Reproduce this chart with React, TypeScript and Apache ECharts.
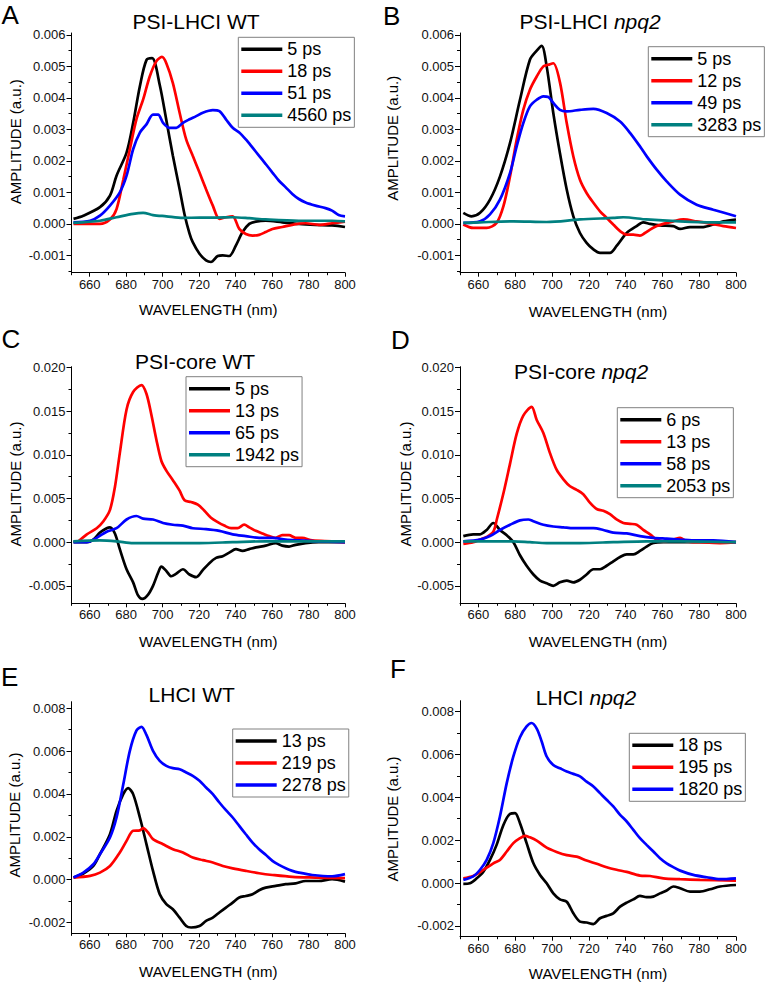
import React, { useEffect, useRef } from "react";
import * as echarts from "echarts";

// ---------- axis ticks ----------
const WL_TICKS = [660, 680, 700, 720, 740, 760, 780, 800];
const WL_MINOR = [650, 670, 690, 710, 730, 750, 770, 790];
const LHCI_TICKS = [-0.001, 0, 0.001, 0.002, 0.003, 0.004, 0.005, 0.006];
const LHCI_MINOR = [-0.0015, -0.0005, 0.0005, 0.0015, 0.0025, 0.0035, 0.0045, 0.0055];
const CORE_TICKS = [-0.005, 0, 0.005, 0.01, 0.015, 0.02];
const CORE_MINOR = [-0.0025, 0.0025, 0.0075, 0.0125, 0.0175];
const LH_TICKS = [-0.002, 0, 0.002, 0.004, 0.006, 0.008];
const LH_MINOR = [-0.001, 0.001, 0.003, 0.005, 0.007];

// ---------- A: PSI-LHCI WT ----------
const A_5ps = [[651.1,0.00016],[656.5,0.00026],[665.6,0.00053],[671.1,0.0009],[674.7,0.00153],[680.2,0.00226],[683.8,0.0032],[687.5,0.00437],[691.1,0.0052],[694.2,0.00526],[698.4,0.00441],[702,0.0033],[705.6,0.00216],[709.3,0.0011],[712,0.0003],[714.7,-0.0003],[716.5,-0.00058],[720.2,-0.00095],[723.8,-0.00116],[726.5,-0.00121],[730.2,-0.00102],[732.9,-0.001],[736.5,-0.00102],[740.2,-0.00068],[743.8,-0.00026],[747.5,0],[751.1,0.00007],[756.5,0.0001],[765.6,0.00005],[774.7,0],[783.8,-0.00003],[792.9,-0.00005],[800,-0.0001]];
const A_18ps = [[651.1,0],[665.6,0],[671.1,0.00014],[674.7,0.00047],[678.4,0.0014],[682,0.00237],[685.6,0.00332],[689.3,0.00395],[692.9,0.00468],[696.5,0.00516],[699.6,0.0053],[702,0.0051],[705.6,0.00447],[709.3,0.00353],[712.9,0.00268],[716.5,0.00216],[720.2,0.00163],[723.8,0.0011],[727.5,0.00058],[731.1,0.00016],[734.7,0.00021],[738.4,0.00024],[742,-0.00016],[745.6,-0.00032],[749.3,-0.00037],[752.9,-0.00035],[756.5,-0.00026],[760.2,-0.00016],[765.6,-0.0001],[771.1,-0.00003],[778.4,0.00002],[785.6,-0.00003],[792.9,0.00002],[800,0.00007]];
const A_51ps = [[651.1,0.00005],[660.2,0.0001],[665.6,0.00026],[671.1,0.00058],[676.5,0.001],[680.2,0.00153],[683.8,0.00237],[687.5,0.0029],[691.1,0.00316],[694.7,0.00347],[697.5,0.00347],[700.2,0.00321],[703.8,0.00305],[707.5,0.00305],[711.1,0.00321],[714.7,0.00332],[718.4,0.00342],[722,0.00353],[727.5,0.00361],[731.1,0.00358],[734.7,0.00332],[738.4,0.00305],[742,0.0029],[745.6,0.00268],[749.3,0.00242],[752.9,0.00216],[756.5,0.0019],[760.2,0.00163],[763.8,0.00137],[767.5,0.00116],[771.1,0.00095],[774.7,0.00079],[778.4,0.00068],[783.8,0.00058],[789.3,0.0005],[792.9,0.00042],[796.5,0.00028],[800,0.00024]];
const A_4560ps = [[651,0.00003],[665.6,0.0001],[674.7,0.00021],[683.8,0.00032],[689.3,0.00035],[694.7,0.00028],[702,0.00024],[711.1,0.00019],[720.2,0.0002],[729.3,0.0002],[738.4,0.00021],[747.5,0.00018],[756.5,0.00014],[774.7,0.0001],[792.9,0.0001],[800,0.00008]];

// ---------- B: PSI-LHCI npq2 ----------
const B_5ps = [[651.8,0.00035],[656.3,0.00024],[660.9,0.00035],[666.3,0.00077],[671.7,0.0015],[677.2,0.00257],[682.6,0.00394],[688,0.00521],[691.7,0.0055],[694.4,0.00565],[697.1,0.005],[700.7,0.00352],[704.3,0.00225],[708,0.00109],[711.6,0.00024],[715.2,-0.00029],[718.8,-0.0006],[722.5,-0.00081],[726.1,-0.00092],[731.5,-0.00092],[735.1,-0.0007],[740.6,-0.00029],[746,-0.00007],[749.6,0.00005],[753.3,0],[758.7,-0.00005],[765.9,-0.00007],[769.6,-0.00016],[775,-0.0001],[782.2,-0.0001],[787.7,-0.00002],[793.1,0.00008],[800,0.00014]];
const B_12ps = [[651.8,-0.00002],[657.2,-0.00013],[664.5,-0.00013],[669.9,0.00003],[673.6,0.00056],[677.2,0.00151],[680.8,0.00267],[684.4,0.00362],[688,0.00426],[691.7,0.00468],[695.3,0.005],[698,0.00505],[700.7,0.0051],[704.3,0.0045],[708,0.0032],[711.6,0.00214],[715.2,0.0014],[718.8,0.00098],[722.5,0.00067],[726.1,0.0004],[729.7,0.00019],[733.3,-0.00002],[737,-0.00023],[740.6,-0.00034],[744.2,-0.00034],[747.8,-0.00037],[750.5,-0.00029],[753.3,-0.00018],[756.9,-0.00007],[760.5,0],[765.9,0.00008],[771.4,0.00014],[778.6,0.00008],[785.9,0.00001],[793.1,-0.00007],[800,-0.00013]];
const B_49ps = [[651.8,0.00003],[660.9,0.00008],[666.3,0.0003],[671.7,0.00077],[677.2,0.00162],[680.8,0.00246],[684.4,0.0032],[688,0.00373],[691.7,0.00394],[695.3,0.00405],[698,0.00403],[700.7,0.00384],[704.3,0.00362],[708,0.00357],[715.2,0.00362],[722.5,0.00365],[729.7,0.00352],[737,0.00325],[742.4,0.00289],[747.8,0.00246],[751.4,0.00215],[756.9,0.00172],[762.3,0.00135],[769.6,0.00093],[778.6,0.00061],[787.7,0.00045],[800,0.00024]];
const B_3283ps = [[651.8,0.00003],[660.9,0.00005],[679,0.00008],[697.1,0.00006],[715.2,0.00014],[733.3,0.00019],[738.8,0.00021],[751.4,0.00014],[769.6,0.00008],[787.7,0.00005],[800,0.00005]];

// ---------- C: PSI-core WT ----------
const C_5ps = [[651.1,0],[658.4,0],[662,0.0003],[665.6,0.0011],[669.3,0.0016],[671.1,0.0017],[673.8,0.001],[676.5,-0.0008],[680.2,-0.0031],[683.8,-0.0046],[686.5,-0.0061],[688.9,-0.0065],[692,-0.006],[694.7,-0.005],[697.5,-0.0035],[699.3,-0.0028],[702,-0.0033],[704.7,-0.0039],[707.5,-0.0036],[711.1,-0.0031],[714.7,-0.0037],[718.4,-0.004],[722,-0.0032],[725.6,-0.0024],[729.3,-0.0018],[732.9,-0.0016],[736.5,-0.0012],[740.2,-0.0008],[743.8,-0.001],[747.5,-0.0008],[751.1,-0.0006],[756.5,-0.0004],[762,-0.0001],[765.6,-0.0004],[769.3,-0.0005],[772.9,-0.0003],[778.4,-0.0001],[785.6,0],[800,0]];
const C_13ps = [[653.8,0.0001],[658.4,0.0009],[663.8,0.0016],[667.5,0.0024],[671.1,0.0037],[673.8,0.0063],[676.5,0.0102],[680.2,0.0152],[683.8,0.0172],[688.4,0.018],[691.1,0.017],[693.8,0.0146],[696.5,0.0118],[699.3,0.0093],[702,0.0082],[705.6,0.0071],[709.3,0.0059],[712,0.0048],[715.6,0.0046],[719.3,0.0043],[722.9,0.0036],[726.5,0.0028],[730.2,0.0023],[733.8,0.0019],[737.5,0.0016],[741.1,0.0016],[744.7,0.002],[747.5,0.0017],[751.1,0.0013],[754.7,0.001],[758.4,0.0007],[762,0.0005],[765.6,0.0008],[769.3,0.0008],[772.9,0.0005],[776.5,0.0005],[782,0.0002],[792.9,0.0001],[800,0]];
const C_65ps = [[651.1,0],[658.4,0],[663.8,0.0005],[669.3,0.0012],[674.7,0.0016],[680.2,0.0026],[685.6,0.003],[689.3,0.0027],[694.7,0.0026],[700.2,0.0022],[705.6,0.002],[711.1,0.0019],[716.5,0.0016],[723.8,0.0015],[731.1,0.0013],[738.4,0.0009],[745.6,0.0007],[752.9,0.0005],[760.2,0.0005],[767.5,0.0003],[774.7,0.0002],[783.8,0.0001],[800,0]];
const C_1942ps = [[651,0.0001],[665.6,0.0002],[674.7,0.0001],[683.8,-0.0001],[702,-0.0001],[720.2,-0.0001],[738.4,0],[756.5,0.0001],[774.7,0.0001],[800,0.0001]];

// ---------- D: PSI-core npq2 ----------
const D_6ps = [[651.8,0.0007],[657.2,0.0009],[660.9,0.0009],[664.5,0.0014],[668.1,0.0022],[671.7,0.0014],[675.4,0.0008],[679,0],[682.6,-0.0015],[686.2,-0.0027],[689.9,-0.0037],[693.5,-0.0044],[697.1,-0.0047],[700.7,-0.005],[704.3,-0.0046],[708,-0.0044],[711.6,-0.0046],[715.2,-0.0043],[718.8,-0.0037],[722.5,-0.0031],[726.1,-0.0031],[729.7,-0.0027],[733.3,-0.0022],[737,-0.0017],[740.6,-0.0014],[744.2,-0.0014],[747.8,-0.001],[751.4,-0.0005],[755.1,-0.0001],[760.5,0],[769.6,0],[800,0]];
const D_13ps = [[651.8,-0.0002],[657.2,0],[660.9,0.0003],[664.5,0.0006],[668.1,0.0012],[670,0.0026],[673.6,0.0056],[677.2,0.009],[680.8,0.0124],[684.4,0.0145],[688.9,0.0155],[691.7,0.014],[695.3,0.0125],[698.9,0.0102],[702.5,0.0083],[706.2,0.0072],[709.8,0.0064],[713.4,0.006],[717,0.0055],[720.7,0.0045],[724.3,0.0038],[727.9,0.0036],[731.5,0.0032],[735.1,0.0026],[738.8,0.0022],[742.4,0.0021],[746,0.002],[749.6,0.0014],[753.3,0.0009],[756.9,0.0003],[760.5,0.0001],[765.9,0.0003],[769.6,0.0005],[773.2,0.0001],[780.4,0],[791.3,-0.0001],[800,0]];
const D_58ps = [[651.8,0.0001],[660.9,0.0003],[666.3,0.0007],[671.7,0.0014],[677.2,0.002],[682.6,0.0025],[687.1,0.0026],[689.9,0.0024],[695.3,0.002],[700.7,0.0018],[706.2,0.0017],[711.6,0.0016],[717,0.0016],[722.5,0.0016],[727.9,0.0014],[733.3,0.0011],[740.6,0.001],[747.8,0.0007],[755.1,0.0005],[762.3,0.0004],[769.6,0.0003],[778.6,0.0002],[787.7,0.0002],[800,0]];
const D_2053ps = [[651.8,0.0001],[679,0.0001],[688,0],[697.1,-0.0001],[715.2,-0.0001],[733.3,0],[751.4,0.0001],[769.6,0.0001],[800,0]];

// ---------- E: LHCI WT ----------
const E_13ps = [[651.1,0.0001],[656.5,0.00029],[662,0.00064],[665.6,0.00119],[671.1,0.00212],[674.7,0.00321],[678.4,0.00399],[681.1,0.00427],[683.8,0.00399],[687.5,0.0029],[691.1,0.00166],[694.7,0.00041],[698.4,-0.00068],[702,-0.00114],[705.6,-0.00138],[709.3,-0.00177],[712.9,-0.00216],[715.6,-0.00223],[720.2,-0.00216],[723.8,-0.00192],[727.5,-0.00177],[731.1,-0.00153],[734.7,-0.0013],[738.4,-0.00107],[742,-0.00083],[745.6,-0.00076],[749.3,-0.00068],[752.9,-0.00049],[756.5,-0.00037],[762,-0.00029],[767.5,-0.00021],[772.9,-0.00017],[778.4,-0.00006],[785.6,-0.00006],[792.9,0.00002],[800,-0.00009]];
const E_219ps = [[651.1,0.0001],[660.2,0.00018],[665.6,0.00033],[671.1,0.00064],[676.5,0.00127],[680.2,0.00181],[683.8,0.00228],[687.5,0.0023],[689.3,0.0024],[692,0.0022],[694.7,0.00189],[700.2,0.00165],[705.6,0.00142],[711.1,0.00127],[716.5,0.00103],[722,0.00091],[727.5,0.0008],[733,0.00064],[738.4,0.00053],[745.6,0.00041],[752.9,0.0003],[760.2,0.00022],[771.1,0.00013],[783.8,0.0001],[800,0.00007]];
const E_2278ps = [[651.1,0.0001],[656.5,0.00033],[662,0.00072],[665.6,0.00119],[671.1,0.00197],[674.7,0.0029],[678.4,0.00445],[682,0.00601],[685.6,0.00695],[688.4,0.00713],[691.1,0.00675],[694.7,0.00601],[698.4,0.00554],[702,0.00531],[705.6,0.0052],[709.3,0.00515],[712.9,0.005],[716.5,0.00484],[720.2,0.00461],[723.8,0.0043],[727.5,0.00399],[731.1,0.0036],[734.7,0.00324],[738.4,0.0029],[742,0.00251],[745.6,0.00212],[749.3,0.00173],[752.9,0.00142],[756.5,0.00116],[760.2,0.00088],[763.8,0.00069],[767.5,0.00053],[771.1,0.00041],[774.7,0.00033],[782,0.00022],[792.9,0.00016],[800,0.00026]];

// ---------- F: LHCI npq2 ----------
const F_18ps = [[651.8,-0.00004],[655.4,-0.00001],[659.1,0.00022],[662.7,0.00053],[666.3,0.00108],[669.9,0.00178],[673.6,0.00271],[677.2,0.00323],[679.9,0.00326],[682.6,0.00279],[686.2,0.00186],[689.9,0.00092],[693.5,0.00038],[697.1,-0.00001],[700.7,-0.00048],[704.3,-0.00076],[708,-0.00087],[711.6,-0.00141],[715.2,-0.0018],[718.8,-0.00184],[722.5,-0.00191],[726.1,-0.00164],[729.7,-0.00153],[733.3,-0.00141],[737,-0.0011],[740.6,-0.00091],[744.2,-0.00076],[747.8,-0.0006],[751.4,-0.00066],[755.1,-0.00063],[758.7,-0.00048],[762.3,-0.00035],[765.9,-0.00016],[769.6,-0.00024],[775,-0.0004],[780.4,-0.0004],[785.9,-0.00029],[791.3,-0.00016],[800,-0.00009]];
const F_195ps = [[651.8,0.00022],[657.2,0.00033],[662.7,0.00061],[668.1,0.00092],[671.7,0.00108],[675.4,0.00147],[679,0.00186],[682.6,0.00209],[685.3,0.0022],[688,0.00213],[691.7,0.00198],[697.1,0.00165],[702.5,0.00145],[708,0.0013],[713.4,0.00123],[718.8,0.00105],[724.3,0.0009],[729.7,0.00074],[735.1,0.00062],[740.6,0.00052],[747.8,0.00035],[753.3,0.00033],[760.5,0.00022],[769.6,0.00018],[780.4,0.00015],[800,0.00011]];
const F_1820ps = [[651.8,0.00015],[657.2,0.00031],[660.9,0.00062],[664.5,0.00108],[668.1,0.00186],[671.7,0.0031],[675.4,0.00466],[679,0.0059],[682.6,0.0068],[686.2,0.0073],[688.9,0.00746],[691.7,0.0072],[694.4,0.0066],[697.1,0.0059],[700.7,0.0055],[704.3,0.00535],[708,0.0052],[711.6,0.00509],[715.2,0.00497],[718.8,0.00473],[722.5,0.0045],[726.1,0.00419],[729.7,0.00388],[733.3,0.00357],[737,0.00318],[740.6,0.00287],[744.2,0.00248],[747.8,0.00209],[751.4,0.00178],[755.1,0.00147],[758.7,0.00116],[762.3,0.00092],[765.9,0.00074],[769.6,0.00058],[776.8,0.00038],[784.1,0.00027],[791.3,0.00018],[800,0.00022]];

const BLACK = "#000000";
const RED = "#ff0000";
const BLUE = "#0000ff";
const TEAL = "#008080";
const FONT = '"Liberation Sans", Arial, Helvetica, sans-serif';

type SeriesSpec = { label: string; color: string; data: number[][] };
type Panel = {
  key: string;
  grid: { left: number; top: number; width: number; height: number };
  ymin: number;
  ymax: number;
  ticks: number[];
  minor: number[];
  series: SeriesSpec[];
  legend: { left: number; top: number };
  title: { pre: string; it?: string; x: number; y: number };
  letter: { x: number; y: number };
  yname: { x: number; y: number };
  xnameY: number;
};

const panels: Panel[] = [
  {
    key: "A",
    grid: { left: 71.5, top: 33, width: 273.5, height: 239.7 },
    ymin: -0.00155, ymax: 0.00606, ticks: LHCI_TICKS, minor: LHCI_MINOR,
    series: [
      { label: "5 ps", color: BLACK, data: A_5ps },
      { label: "18 ps", color: RED, data: A_18ps },
      { label: "51 ps", color: BLUE, data: A_51ps },
      { label: "4560 ps", color: TEAL, data: A_4560ps },
    ],
    legend: { left: 238.3, top: 37.3 },
    title: { pre: "PSI-LHCI WT", x: 196, y: 21 },
    letter: { x: 1.5, y: 15 },
    yname: { x: 15, y: 141.7 },
    xnameY: 309,
  },
  {
    key: "B",
    grid: { left: 460, top: 33, width: 276, height: 239.7 },
    ymin: -0.00155, ymax: 0.00606, ticks: LHCI_TICKS, minor: LHCI_MINOR,
    series: [
      { label: "5 ps", color: BLACK, data: B_5ps },
      { label: "12 ps", color: RED, data: B_12ps },
      { label: "49 ps", color: BLUE, data: B_49ps },
      { label: "3283 ps", color: TEAL, data: B_3283ps },
    ],
    legend: { left: 648.3, top: 46.7 },
    title: { pre: "PSI-LHCI ", it: "npq2", x: 590, y: 21.7 },
    letter: { x: 383, y: 15.5 },
    yname: { x: 392, y: 138.3 },
    xnameY: 311.5,
  },
  {
    key: "C",
    grid: { left: 71.5, top: 366.7, width: 273.5, height: 236.6 },
    ymin: -0.007, ymax: 0.0201, ticks: CORE_TICKS, minor: CORE_MINOR,
    series: [
      { label: "5 ps", color: BLACK, data: C_5ps },
      { label: "13 ps", color: RED, data: C_13ps },
      { label: "65 ps", color: BLUE, data: C_65ps },
      { label: "1942 ps", color: TEAL, data: C_1942ps },
    ],
    legend: { left: 186, top: 376.7 },
    title: { pre: "PSI-core WT", x: 195, y: 361 },
    letter: { x: 1.5, y: 339 },
    yname: { x: 15, y: 484 },
    xnameY: 641.7,
  },
  {
    key: "D",
    grid: { left: 460, top: 366.7, width: 276, height: 236.6 },
    ymin: -0.007, ymax: 0.0201, ticks: CORE_TICKS, minor: CORE_MINOR,
    series: [
      { label: "6 ps", color: BLACK, data: D_6ps },
      { label: "13 ps", color: RED, data: D_13ps },
      { label: "58 ps", color: BLUE, data: D_58ps },
      { label: "2053 ps", color: TEAL, data: D_2053ps },
    ],
    legend: { left: 617.3, top: 407.7 },
    title: { pre: "PSI-core ", it: "npq2", x: 581, y: 371 },
    letter: { x: 391, y: 340 },
    yname: { x: 405, y: 484 },
    xnameY: 641.7,
  },
  {
    key: "E",
    grid: { left: 71.5, top: 701.7, width: 273.5, height: 231.6 },
    ymin: -0.0025, ymax: 0.0083, ticks: LH_TICKS, minor: LH_MINOR,
    series: [
      { label: "13 ps", color: BLACK, data: E_13ps },
      { label: "219 ps", color: RED, data: E_219ps },
      { label: "2278 ps", color: BLUE, data: E_2278ps },
    ],
    legend: { left: 232.7, top: 729 },
    title: { pre: "LHCI WT", x: 191.7, y: 694 },
    letter: { x: 1, y: 677 },
    yname: { x: 14, y: 815 },
    xnameY: 971.7,
  },
  {
    key: "F",
    grid: { left: 460, top: 700.7, width: 276, height: 236 },
    ymin: -0.0025, ymax: 0.0085, ticks: LH_TICKS, minor: LH_MINOR,
    series: [
      { label: "18 ps", color: BLACK, data: F_18ps },
      { label: "195 ps", color: RED, data: F_195ps },
      { label: "1820 ps", color: BLUE, data: F_1820ps },
    ],
    legend: { left: 629.3, top: 733.3 },
    title: { pre: "LHCI ", it: "npq2", x: 586, y: 697 },
    letter: { x: 390, y: 669 },
    yname: { x: 392, y: 819 },
    xnameY: 973.3,
  },
];

function buildOption() {
  const grid: any[] = [];
  const xAxis: any[] = [];
  const yAxis: any[] = [];
  const series: any[] = [];
  const legend: any[] = [];
  const graphic: any[] = [];
  const axisLineStyle = { color: "#000", width: 1 };
  const labelStyle = { color: "#111", fontSize: 13, fontFamily: FONT };

  panels.forEach((p, i) => {
    grid.push({ ...p.grid, containLabel: false });
    xAxis.push({
      type: "value", gridIndex: i, min: 650, max: 800,
      axisLine: { show: true, onZero: false, lineStyle: axisLineStyle },
      axisTick: { show: true, customValues: WL_TICKS, length: 4, lineStyle: axisLineStyle },
      axisLabel: { show: true, customValues: WL_TICKS, margin: 5, ...labelStyle },
      splitLine: { show: false },
    });
    xAxis.push({
      type: "value", gridIndex: i, min: 650, max: 800, position: "bottom",
      axisLine: { show: false, onZero: false },
      axisTick: { show: true, customValues: WL_MINOR, length: 2.5, lineStyle: axisLineStyle },
      axisLabel: { show: false },
      splitLine: { show: false },
    });
    yAxis.push({
      type: "value", gridIndex: i, min: p.ymin, max: p.ymax,
      axisLine: { show: true, onZero: false, lineStyle: axisLineStyle },
      axisTick: { show: true, customValues: p.ticks, length: 5, lineStyle: axisLineStyle },
      axisLabel: {
        show: true, customValues: p.ticks, margin: 6,
        formatter: (v: number) => (Math.abs(v) < 1e-12 ? 0 : v).toFixed(3),
        ...labelStyle,
      },
      splitLine: { show: false },
    });
    yAxis.push({
      type: "value", gridIndex: i, min: p.ymin, max: p.ymax, position: "left",
      axisLine: { show: false, onZero: false },
      axisTick: { show: true, customValues: p.minor, length: 3, lineStyle: axisLineStyle },
      axisLabel: { show: false },
      splitLine: { show: false },
    });

    const names: string[] = [];
    p.series.forEach((s) => {
      const name = `${p.key}|${s.label}`;
      names.push(name);
      series.push({
        type: "line", name, xAxisIndex: 2 * i, yAxisIndex: 2 * i,
        data: s.data, showSymbol: false, symbol: "none", smooth: 0.3,
        color: s.color, itemStyle: { color: s.color },
        lineStyle: { color: s.color, width: 2.7 },
        silent: true,
      });
    });

    legend.push({
      data: names, orient: "vertical", left: p.legend.left, top: p.legend.top,
      icon: "rect", itemWidth: 41, itemHeight: 3.5, itemGap: 0,
      padding: [1, 3, 1, 3], borderColor: "#808080", borderWidth: 1,
      backgroundColor: "#ffffff", selectedMode: false,
      formatter: (n: string) => n.split("|")[1],
      textStyle: { fontSize: 18, fontFamily: FONT, color: "#000", lineHeight: 22 },
    });

    graphic.push({
      type: "text", x: p.letter.x, y: p.letter.y, silent: true,
      style: { text: p.key, fontSize: 26, fontFamily: FONT, fill: "#000", align: "left", verticalAlign: "middle" },
    });
    if (p.title.it) {
      graphic.push({
        type: "text", x: p.title.x, y: p.title.y, silent: true,
        style: {
          text: `{n|${p.title.pre}}{i|${p.title.it}}`, align: "center", verticalAlign: "middle", fill: "#000",
          rich: {
            n: { fontSize: 21, fontFamily: FONT, fill: "#000" },
            i: { fontSize: 21, fontFamily: FONT, fontStyle: "italic", fill: "#000" },
          },
        },
      });
    } else {
      graphic.push({
        type: "text", x: p.title.x, y: p.title.y, silent: true,
        style: { text: p.title.pre, fontSize: 21, fontFamily: FONT, fill: "#000", align: "center", verticalAlign: "middle" },
      });
    }
    graphic.push({
      type: "text", x: p.grid.left + p.grid.width / 2, y: p.xnameY, silent: true,
      style: { text: "WAVELENGTH (nm)", fontSize: 15, fontFamily: FONT, fill: "#000", align: "center", verticalAlign: "middle" },
    });
    graphic.push({
      type: "text", x: p.yname.x, y: p.yname.y, rotation: Math.PI / 2, silent: true,
      style: { text: "AMPLITUDE (a.u.)", fontSize: 15, fontFamily: FONT, fill: "#000", align: "center", verticalAlign: "middle" },
    });
  });

  return {
    animation: false,
    backgroundColor: "#ffffff",
    grid, xAxis, yAxis, series, legend, graphic,
  };
}

export default function App() {
  const ref = useRef<HTMLDivElement>(null);
  useEffect(() => {
    if (!ref.current) return;
    const chart = echarts.init(ref.current, undefined, { renderer: "svg" });
    chart.setOption(buildOption() as any);
    return () => chart.dispose();
  }, []);
  return (
    <div
      ref={ref}
      style={{ position: "absolute", left: 0, top: 0, width: 765, height: 984, background: "#fff" }}
    />
  );
}
